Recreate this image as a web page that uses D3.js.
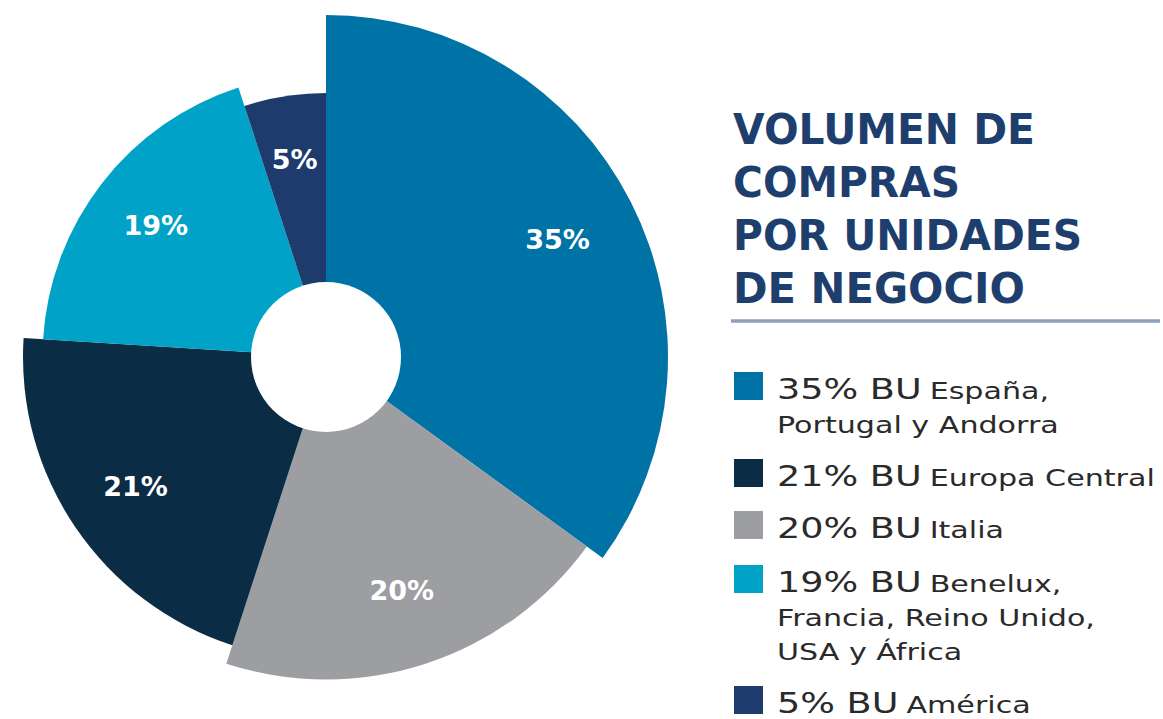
<!DOCTYPE html>
<html>
<head>
<meta charset="utf-8">
<script src="https://cdn.jsdelivr.net/npm/d3@7"></script>
<style>
  body { margin: 0; background: #fff; }
  svg { display: block; }
</style>
</head>
<body>
<div id="chart"></div>
<script>
var w = 1163, h = 719;

// data, legend order
var shares = ["35%", "21%", "20%", "19%", "5%"];
var values = [35, 21, 20, 19, 5];
var units = ["BU España, Portugal y Andorra", "BU Europa Central", "BU Italia",
             "BU Benelux, Francia, Reino Unido, USA y África", "BU América"];
// line breaks of the small legend text
var unitLines = [["España,", "Portugal y Andorra"], ["Europa Central"], ["Italia"],
                 ["Benelux,", "Francia, Reino Unido,", "USA y África"], ["América"]];
var colors = ["#0073a6", "#0a2c44", "#9d9ea2", "#00a3c7", "#1d3b6c"];
// clockwise order of the slices, starting at 12 o'clock
var pieOrder = [0, 2, 1, 3, 4];
var titleLines = ["VOLUMEN DE", "COMPRAS", "POR UNIDADES", "DE NEGOCIO"];

var svg = d3.select("#chart")
    .append("svg")
    .attr("width", w)
    .attr("height", h);

var cx = 326, cy = 357;

var pie = d3.pie()
    .sort(null)
    .value(function(d) { return values[d]; });

var arcs = pie(pieOrder);

// each slice a bit shorter than the one before it
var rScale = d3.scaleLinear()
    .domain([0, pieOrder.length - 1])
    .range([342, 264]);

var g = svg.append("g")
    .attr("transform", "translate(" + cx + "," + cy + ")");

g.selectAll("path.slice")
    .data(arcs)
    .enter()
    .append("path")
    .attr("class", "slice")
    .attr("d", function(d, i) {
        return d3.arc().innerRadius(0).outerRadius(rScale(i))(d);
    })
    .style("fill", function(d) { return colors[d.data]; });

g.append("circle")
    .attr("r", 75)
    .style("fill", "#fff");

g.selectAll("text.pct")
    .data(arcs)
    .enter()
    .append("text")
    .attr("class", "pct")
    .attr("transform", function(d, i) {
        var r = rScale(i) * 0.76;
        var a = (d.startAngle + d.endAngle) / 2;
        return "translate(" + (r * Math.sin(a)) + "," + (-r * Math.cos(a)) + ")";
    })
    .attr("text-anchor", "middle")
    .attr("dy", "0.36em")
    .style("font-family", "'DejaVu Sans', sans-serif")
    .style("font-weight", "bold")
    .style("font-size", "27px")
    .style("fill", "#fff")
    .text(function(d) { return shares[d.data]; });

// title
var title = svg.append("g")
    .attr("transform", "translate(733,0)");

var titleWidths = [302, 227, 349, 292];

title.selectAll("text")
    .data(titleLines)
    .enter()
    .append("text")
    .attr("x", 0)
    .attr("y", function(d, i) { return 144 + i * 53; })
    .attr("textLength", function(d, i) { return titleWidths[i]; })
    .attr("lengthAdjust", "spacingAndGlyphs")
    .style("font-family", "'DejaVu Sans', sans-serif")
    .style("font-weight", "bold")
    .style("font-size", "43px")
    .style("fill", "#1e3f6e")
    .text(function(d) { return d; });

svg.append("line")
    .attr("x1", 731)
    .attr("x2", 1160)
    .attr("y1", 321)
    .attr("y2", 321)
    .style("stroke", "#8ea1bc")
    .style("stroke-width", 3.5);

// legend
var legendY = [399, 486, 538, 592, 713];
var lineGap = 34;

// widen the glyphs a bit, the original face is a wide geometric sans
function widen(sel, k) {
    sel.each(function() {
        var len = this.getComputedTextLength();
        d3.select(this)
            .attr("textLength", len * k)
            .attr("lengthAdjust", "spacingAndGlyphs");
    });
}

var legend = svg.selectAll("g.legend")
    .data(d3.range(shares.length))
    .enter()
    .append("g")
    .attr("class", "legend")
    .attr("transform", function(i) { return "translate(733," + legendY[i] + ")"; });

legend.append("rect")
    .attr("x", 1)
    .attr("y", -27)
    .attr("width", 29)
    .attr("height", 28)
    .style("fill", function(i) { return colors[i]; });

var big = legend.append("text")
    .attr("class", "big")
    .attr("x", 44)
    .attr("y", 0)
    .style("font-family", "'DejaVu Sans', sans-serif")
    .style("font-size", "29px")
    .style("fill", "#2a2a2a")
    .text(function(i) { return shares[i] + " BU"; });

widen(big, 1.26);

legend.each(function(i) {
    var row = d3.select(this);
    var bw = +row.select("text.big").attr("textLength");
    unitLines[i].forEach(function(s, k) {
        row.append("text")
            .attr("class", "small")
            .attr("x", k === 0 ? 44 + bw + 8 : 44)
            .attr("y", k * lineGap)
            .style("font-family", "'DejaVu Sans', sans-serif")
            .style("font-size", "23px")
            .style("fill", "#2a2a2a")
            .text(s);
    });
});

widen(legend.selectAll("text.small"), 1.31);
</script>
</body>
</html>
